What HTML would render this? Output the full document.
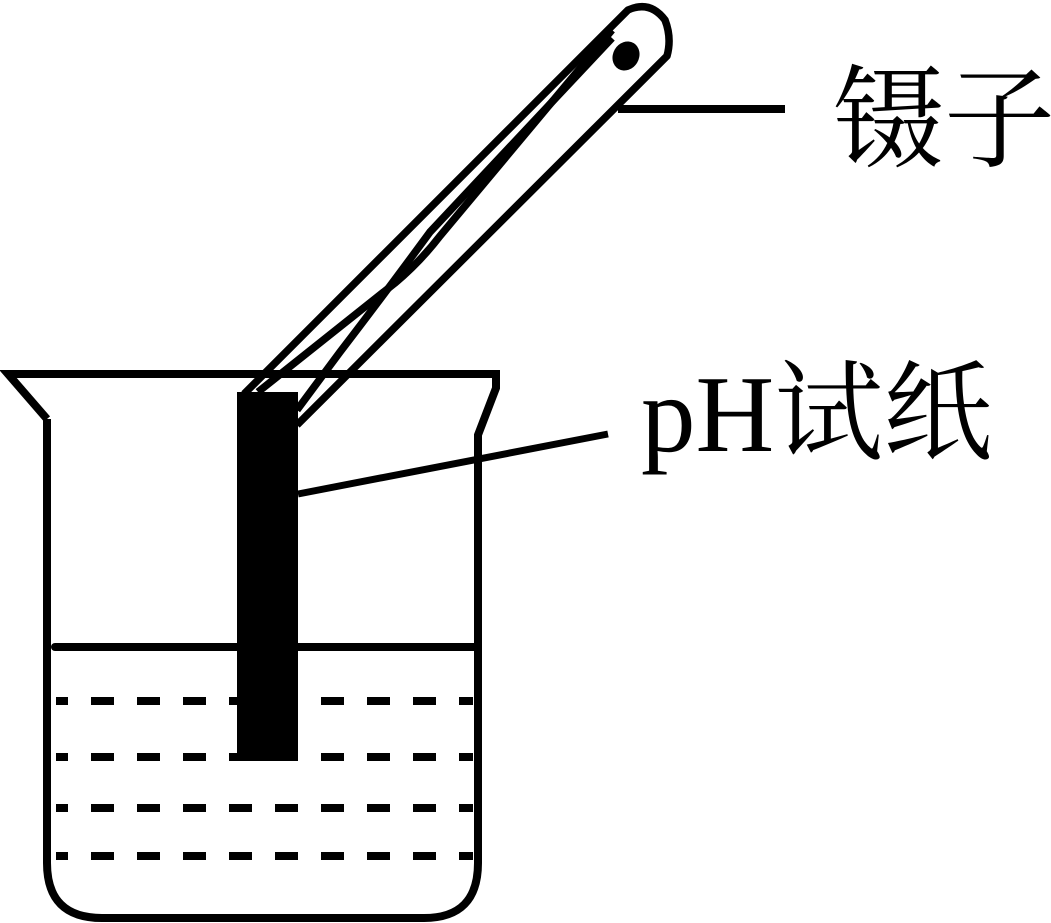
<!DOCTYPE html>
<html><head><meta charset="utf-8"><style>
html,body{margin:0;padding:0;background:#fff;}
body{width:1051px;height:923px;overflow:hidden;position:relative;}
svg{position:absolute;left:0;top:0;}
.t{position:absolute;font-family:"Liberation Serif","Noto Serif CJK SC",serif;color:#000;white-space:nowrap;line-height:1;}
</style></head><body>
<svg width="1051" height="923" viewBox="0 0 1051 923">
<g fill="none" stroke="#000" stroke-width="8" stroke-linejoin="miter">
  <path d="M47,419 L47,863 Q47,918 102,918 L424,918 Q478,918 478,863 L478,435 L496,388 L496,374 L8,374 L47,419"/>
</g>
<line x1="55" y1="647" x2="476" y2="647" stroke="#000" stroke-width="8" stroke-linecap="round"/>
<g stroke="#000" stroke-width="8" stroke-dasharray="23,23" stroke-dashoffset="11">
  <line x1="56" y1="701" x2="473" y2="701"/>
  <line x1="56" y1="757" x2="473" y2="757"/>
  <line x1="56" y1="808" x2="473" y2="808"/>
  <line x1="56" y1="856" x2="473" y2="856"/>
</g>
<g fill="none" stroke="#000" stroke-width="7.5" stroke-linejoin="round">
  <path d="M244,394 L628,10 Q650,0 665,20 Q672,38 667,56 L297,425"/>
  <path d="M258,392 L395,283 Q420,262 440,236 L612,30"/>
  <path d="M297,410 L340,352 Q380,300 430,232 L612,38"/>
</g>
<ellipse cx="626" cy="56" rx="13" ry="15" transform="rotate(30 626 56)" fill="#000"/>
<rect x="237" y="392" width="61" height="369" fill="#000"/>
<line x1="618" y1="109" x2="785" y2="109" stroke="#000" stroke-width="8"/>
<line x1="298" y1="494" x2="608" y2="434" stroke="#000" stroke-width="7"/>
</svg>
<div class="t" style="left:833px;top:66px;font-size:111px;">镊子</div>
<div class="t" style="left:641px;top:360px;font-size:109px;">pH试纸</div>
</body></html>
